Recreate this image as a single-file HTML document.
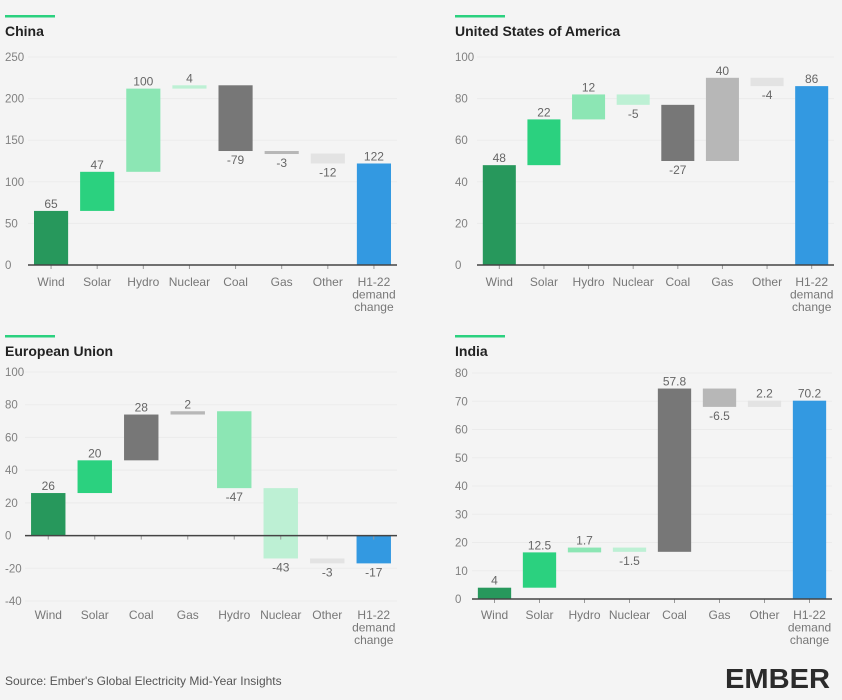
<!DOCTYPE html>
<html><head><meta charset="utf-8"><style>
html,body{margin:0;padding:0;background:#f4f4f4;}
svg{display:block;font-family:"Liberation Sans",sans-serif;}
</style></head><body>
<svg id="c" width="842" height="700" viewBox="0 0 842 700">
<rect width="842" height="700" fill="#f4f4f4"/>
</svg>
<script>
const chinaCats=["Wind","Solar","Hydro","Nuclear","Coal","Gas","Other","H1-22|demand|change"];
const chinaVals=[65,47,100,4,-79,-3,-12,122];
const chinaTypes=["wind","solar","hydro","nuclear","coal","gas","other","total"];
const chinaTicks=[0,50,100,150,200,250];

const usCats=["Wind","Solar","Hydro","Nuclear","Coal","Gas","Other","H1-22|demand|change"];
const usVals=[48,22,12,-5,-27,40,-4,86];
const usTypes=["wind","solar","hydro","nuclear","coal","gas","other","total"];
const usTicks=[0,20,40,60,80,100];

const euCats=["Wind","Solar","Coal","Gas","Hydro","Nuclear","Other","H1-22|demand|change"];
const euVals=[26,20,28,2,-47,-43,-3,-17];
const euTypes=["wind","solar","coal","gas","hydro","nuclear","other","total"];
const euTicks=[-40,-20,0,20,40,60,80,100];

const indiaCats=["Wind","Solar","Hydro","Nuclear","Coal","Gas","Other","H1-22|demand|change"];
const indiaVals=[4,12.5,1.7,-1.5,57.8,-6.5,2.2,70.2];
const indiaTypes=["wind","solar","hydro","nuclear","coal","gas","other","total"];
const indiaTicks=[0,10,20,30,40,50,60,70,80];

const colors={wind:"#27985c",solar:"#2bd17f",hydro:"#8ce6b4",nuclear:"#bdf0d4",coal:"#777777",gas:"#b7b7b7",other:"#e3e3e3",total:"#3399e1"};
const NS="http://www.w3.org/2000/svg";
const svg=document.getElementById('c');
function el(tag,attrs,parent){const e=document.createElementNS(NS,tag);for(const k in attrs)e.setAttribute(k,attrs[k]);(parent||svg).appendChild(e);return e;}

function chart(key,title,cats,vals,types,ticks,box){
  const g=el('g',{});
  
  
  const lo=ticks[0],hi=ticks[ticks.length-1];
  const y=v=>box.yBot-(v-lo)/(hi-lo)*(box.yBot-box.yTop);
  const n=cats.length;const step=(box.x1-box.x0)/n;
  const x=i=>box.x0+step*(i+0.5);
  const bw=step*0.74;
  const ln=el('rect',{x:box.tx,y:box.ty-21,width:50,height:2.5,fill:"#2bd17f"},g);
  
  
  const t=el('text',{x:box.tx,y:box.ty,'font-size':14,'font-weight':'bold',fill:'#222'},g);t.textContent=title;
  
  
  ticks.forEach(v=>{
    if(v!==0){const gl=el('line',{x1:box.x0,x2:box.x1,y1:y(v),y2:y(v),stroke:'#ebebeb','stroke-width':1},g);
      
      }
    const tl=el('text',{x:box.tx,y:y(v)+4,'font-size':11.5,fill:'#808080'},g);tl.textContent=v;
    
    
  });
  let cum=0;
  vals.forEach((v,i)=>{
    let a,b;
    if(types[i]==='total'){a=0;b=v;}else{a=cum;b=cum+v;cum=b;}
    const top=Math.max(a,b),bot=Math.min(a,b);
    let h=y(bot)-y(top);const yy=y(top);
    const r=el('rect',{x:x(i)-bw/2,y:yy,width:bw,height:Math.max(h,3),fill:colors[types[i]]},g);
    
    
    const pos=v>=0;
    const lt=el('text',{x:x(i),y:pos?yy-3:yy+Math.max(h,3)+13,'text-anchor':'middle','font-size':12,fill:'#666'},g);
    lt.textContent=v;
    
    
    const tk=el('line',{x1:x(i),x2:x(i),y1:y(0),y2:y(0)+4,stroke:'#999'},g);
    
    
    const parts=cats[i].split('|');
    const cl=el('text',{x:x(i),'text-anchor':'middle','font-size':12,fill:'#777'},g);
    
    
    parts.forEach((p,j)=>{const ts=el('tspan',{x:x(i),y:box.labY+j*12.5},cl);ts.textContent=p;});
  });
  const ax=el('line',{x1:box.x0,x2:box.x1,y1:y(0),y2:y(0),stroke:'#444','stroke-width':1.5},g);
  
  
}
chart('china','China',chinaCats,chinaVals,chinaTypes,chinaTicks,{x0:28,x1:397,yTop:57,yBot:265,tx:5,ty:36,labY:286});
chart('usa','United States of America',usCats,usVals,usTypes,usTicks,{x0:477,x1:834,yTop:57,yBot:265,tx:455,ty:36,labY:286});
chart('eu','European Union',euCats,euVals,euTypes,euTicks,{x0:25,x1:397,yTop:372,yBot:601,tx:5,ty:356,labY:619});
chart('india','India',indiaCats,indiaVals,indiaTypes,indiaTicks,{x0:472,x1:832,yTop:373,yBot:599,tx:455,ty:356,labY:619});

const src=el('text',{x:5,y:685,'font-size':12,fill:'#555'});
src.textContent="Source: Ember's Global Electricity Mid-Year Insights";


const logo=el('text',{x:725,y:688,'font-size':28,'font-weight':'bold',fill:'#2b2b2b',textLength:105,lengthAdjust:'spacingAndGlyphs'});
logo.textContent="EMBER";


</script>
</body></html>
